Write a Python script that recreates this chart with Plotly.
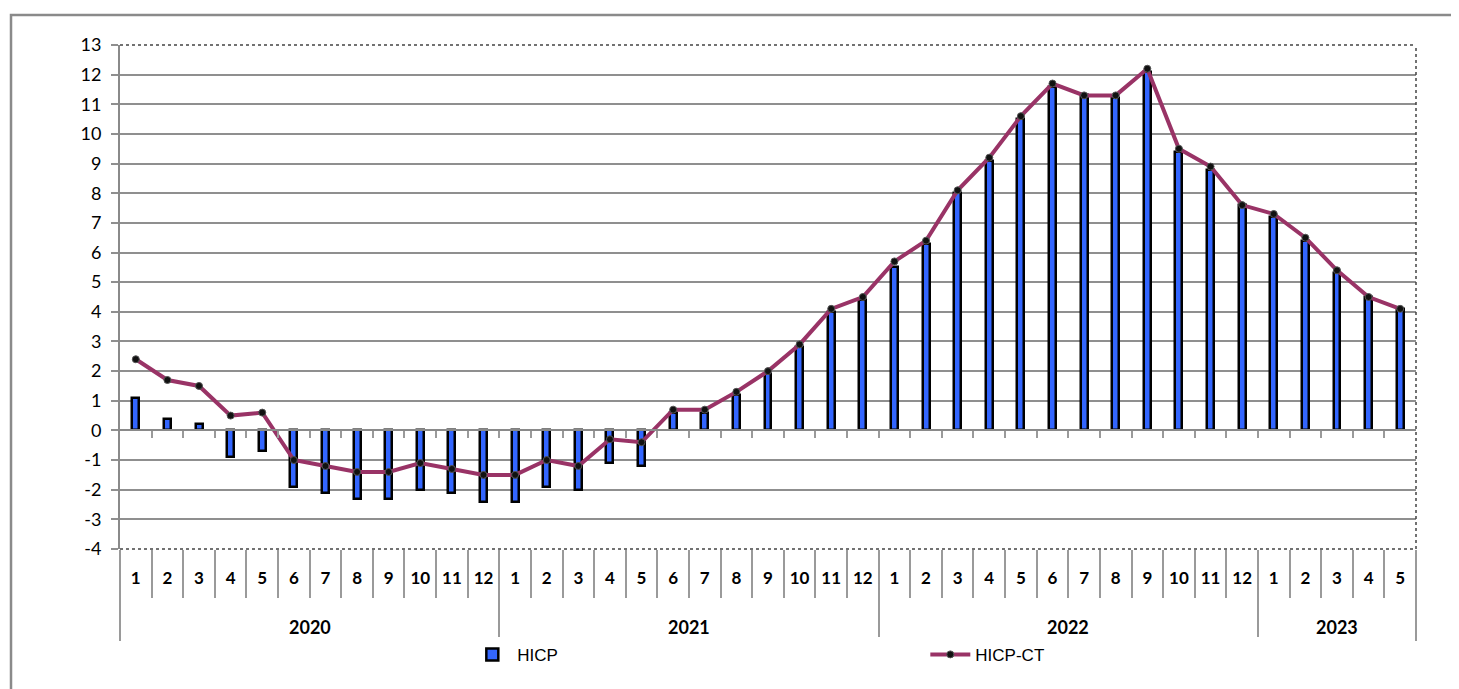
import plotly.graph_objects as go

years = ["2020"] * 12 + ["2021"] * 12 + ["2022"] * 12 + ["2023"] * 5
months = [str(m) for m in range(1, 13)] * 3 + [str(m) for m in range(1, 6)]
year_labels = ["2020", "2021", "2022", "2023"]

hicp = [1.1, 0.4, 0.2, -0.9, -0.7, -1.9, -2.1, -2.3, -2.3, -2.0, -2.1, -2.4,
        -2.4, -1.9, -2.0, -1.1, -1.2, 0.6, 0.6, 1.2, 1.9, 2.8, 4.0, 4.4,
        5.5, 6.3, 8.0, 9.1, 10.5, 11.6, 11.3, 11.2, 12.1, 9.4, 8.8, 7.6,
        7.2, 6.4, 5.3, 4.5, 4.1]
hicp_ct = [2.4, 1.7, 1.5, 0.5, 0.6, -1.0, -1.2, -1.4, -1.4, -1.1, -1.3, -1.5,
           -1.5, -1.0, -1.2, -0.3, -0.4, 0.7, 0.7, 1.3, 2.0, 2.9, 4.1, 4.5,
           5.7, 6.4, 8.1, 9.2, 10.6, 11.7, 11.3, 11.3, 12.2, 9.5, 8.9, 7.6,
           7.3, 6.5, 5.4, 4.5, 4.1]
y_ticks = list(range(-4, 14))

cats = [f"{y}-{m}" for y, m in zip(years, months)]
n = len(cats)
month_bounds = [i + 0.5 for i in range(n - 1)]
year_first = [years.index(y) for y in year_labels]
year_count = [years.count(y) for y in year_labels]
year_bounds = [f - 0.5 for f in year_first] + [n - 0.5]
year_centers = [f + (c - 1) / 2 for f, c in zip(year_first, year_count)]
Y_MIN, Y_MAX = y_ticks[0], y_ticks[-1]

fig = go.Figure()
fig.add_trace(go.Bar(
    x=cats, y=hicp, name="HICP",
    width=0.22,
    marker=dict(color="#3366FF", line=dict(color="#000000", width=2.5)),
))
fig.add_trace(go.Scatter(
    x=cats, y=hicp_ct, name="HICP-CT",
    mode="lines+markers",
    line=dict(color="#993366", width=4),
    marker=dict(color="#111111", size=7, line=dict(color="#555555", width=1)),
))
# helper invisible traces so the tick-only axes are rendered
for ax in ["x2", "x3", "x4"]:
    fig.add_trace(go.Scatter(x=[0], y=[0], xaxis=ax, mode="markers",
                             marker=dict(opacity=0), showlegend=False,
                             hoverinfo="skip"))

tick_axis = dict(overlaying="x", anchor="free", side="bottom", type="linear",
                 range=[-0.5, n - 0.5], tickmode="array", ticks="outside",
                 tickwidth=2, tickcolor="#9a9a9a", showticklabels=False,
                 showgrid=False, zeroline=False)

fig.update_layout(
    width=1451, height=681,
    margin=dict(l=112, r=43, t=37, b=140),
    paper_bgcolor="white", plot_bgcolor="white",
    font=dict(family="Lato, 'Open Sans', sans-serif", color="#000000"),
    showlegend=True,
    legend=dict(orientation="h", x=0.268, y=-0.21, xanchor="left", yanchor="middle",
                font=dict(family="Liberation Sans, Arial, sans-serif", size=17),
                entrywidth=403, itemwidth=40, traceorder="normal"),
    xaxis=dict(type="category", categoryorder="array", categoryarray=cats,
               range=[-0.5, n - 0.5], tickmode="array", tickvals=cats,
               ticktext=months, showgrid=False, showline=False, ticks="",
               tickfont=dict(size=17, weight="bold", family="Lato, sans-serif"),
               ticklabelstandoff=17),
    xaxis2=dict(tick_axis, position=0, tickvals=month_bounds, ticklen=48,
                showline=False),
    xaxis4=dict(tick_axis, position=0, tickvals=year_bounds, ticklen=91,
                showline=False),
    xaxis3=dict(tick_axis, position=(0 - Y_MIN) / (Y_MAX - Y_MIN),
                tickvals=month_bounds, ticklen=7,
                showline=True, linecolor="#8a8a8a", linewidth=2),
    yaxis=dict(range=[Y_MIN, Y_MAX], tickmode="array", tickvals=y_ticks,
               ticktext=[str(v) for v in y_ticks],
               showgrid=True, gridcolor="#8f8f8f", gridwidth=2,
               zeroline=False, showline=True, linecolor="#8a8a8a", linewidth=2,
               ticks="outside", ticklen=7, tickcolor="#8f8f8f", tickwidth=2,
               tickfont=dict(size=18, family="Lato, sans-serif"),
               ticklabelstandoff=6),
    bargap=0,
)

for yl, xc in zip(year_labels, year_centers):
    fig.add_annotation(x=xc, xref="x", y=-78 / 504, yref="paper", text=yl,
                       showarrow=False, xanchor="center", yanchor="middle",
                       font=dict(size=18, weight="bold", family="Lato, sans-serif"))

# dotted plot-area border (top, right, bottom) and outer chart border
for x0, x1, y0, y1 in [(0, 1, 1, 1), (1, 1, 0, 1), (0, 1, 0, 0)]:
    fig.add_shape(type="line", xref="paper", yref="paper",
                  x0=x0, x1=x1, y0=y0, y1=y1,
                  line=dict(color="#444444", width=1.5, dash="dot"))
fig.add_shape(type="rect", xref="paper", yref="paper",
              x0=-0.0841, x1=1.1, y0=-0.33, y1=1.0595,
              line=dict(color="#8a8a8a", width=2.5), fillcolor="rgba(0,0,0,0)",
              layer="below")

fig.write_html("out.html")
